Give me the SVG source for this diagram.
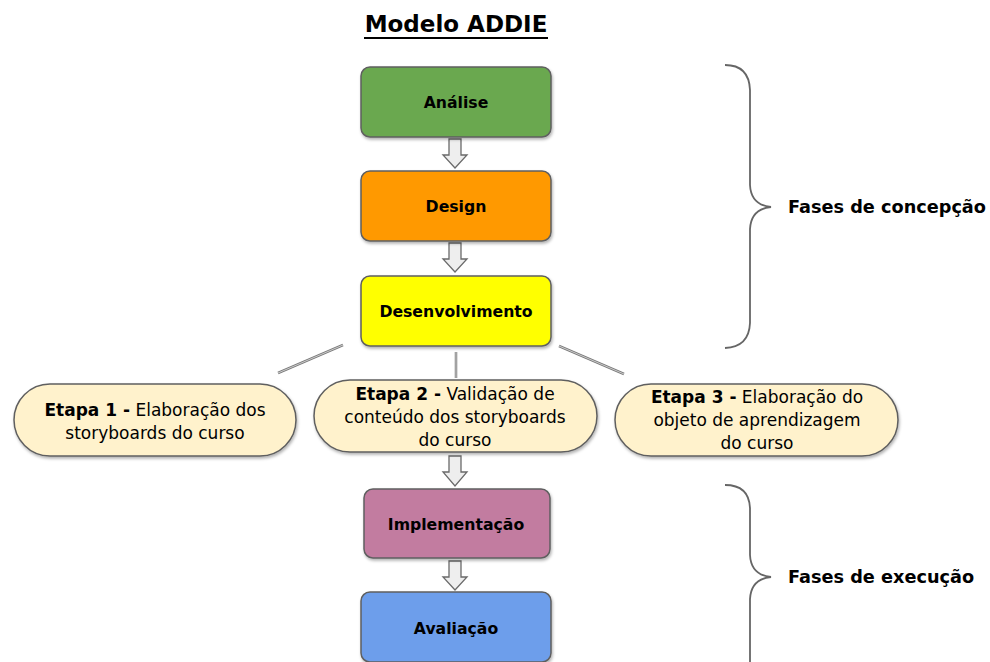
<svg xmlns="http://www.w3.org/2000/svg" width="990" height="662" viewBox="0 0 990 662">
<defs>
<filter id="sh" x="-10%" y="-10%" width="130%" height="140%">
<feDropShadow dx="1" dy="2" stdDeviation="1.5" flood-color="#000" flood-opacity="0.3"/>
</filter>
</defs>
<style>
.box{stroke:#5f5f5f;stroke-width:1.5;filter:url(#sh)}
.pill{fill:#fff2cc;stroke:#5f5f5f;stroke-width:1.5;filter:url(#sh)}
.lbl{font-family:"DejaVu Sans",sans-serif;font-weight:bold;font-size:15.7px;fill:#000;text-anchor:middle}
.ptxt{font-family:"DejaVu Sans",sans-serif;font-size:17px;fill:#000;text-anchor:middle}
.b{font-weight:bold}
.arr{fill:#eeeeee;stroke:#6a6a6a;stroke-width:1.3}
.ln{stroke:#7a7a7a;stroke-width:2.5;fill:none}
.ln2{stroke:#e0e0e0;stroke-width:0.8;fill:none}
.br{fill:none;stroke:#666;stroke-width:1.8}
.side{font-family:"DejaVu Sans",sans-serif;font-weight:bold;font-size:17.7px;fill:#000}
</style>
<rect width="990" height="662" fill="#fff"/>
<g id="title">
<text x="456" y="32" text-anchor="middle" font-family="DejaVu Sans, sans-serif" font-weight="bold" font-size="23" fill="#000">Modelo ADDIE</text>
<line x1="364" y1="38" x2="548" y2="38" stroke="#000" stroke-width="2"/>
</g>
<g id="connectors">
<path class="arr" d="M449 139 H461 V155 H467 L455 168 L443 155 H449 Z"/>
<path class="arr" d="M449 243 H461 V259 H467 L455 272 L443 259 H449 Z"/>
<path class="arr" d="M449 456 H461 V472 H467 L455 486 L443 472 H449 Z"/>
<path class="arr" d="M449 561 H461 V577 H467 L455 590 L443 577 H449 Z"/>
<line class="ln" x1="278" y1="373" x2="343" y2="345"/>
<line class="ln2" x1="278" y1="373" x2="343" y2="345"/>
<line class="ln" x1="456" y1="352" x2="456" y2="378"/>
<line class="ln2" x1="456" y1="352" x2="456" y2="378"/>
<line class="ln" x1="559" y1="346" x2="624" y2="374"/>
<line class="ln2" x1="559" y1="346" x2="624" y2="374"/>
</g>
<g id="analise">
<rect class="box" x="361" y="67" width="190" height="70" rx="9" fill="#6aa84f"/>
<text class="lbl" x="456" y="108">Análise</text>
</g>
<g id="design">
<rect class="box" x="361" y="171" width="190" height="70" rx="9" fill="#ff9900"/>
<text class="lbl" x="456" y="212">Design</text>
</g>
<g id="desenvolvimento">
<rect class="box" x="361" y="276" width="190" height="70" rx="9" fill="#ffff00"/>
<text class="lbl" x="456" y="317">Desenvolvimento</text>
</g>
<g id="etapa1">
<rect class="pill" x="14" y="384" width="282" height="72" rx="36" ry="36"/>
<text class="ptxt" x="155" y="416"><tspan class="b">Etapa 1 -</tspan> Elaboração dos</text>
<text class="ptxt" x="155" y="439">storyboards do curso</text>
</g>
<g id="etapa2">
<rect class="pill" x="314" y="380" width="283" height="72" rx="36" ry="36"/>
<text class="ptxt" x="455" y="400"><tspan class="b">Etapa 2 -</tspan> Validação de</text>
<text class="ptxt" x="455" y="423">conteúdo dos storyboards</text>
<text class="ptxt" x="455" y="446">do curso</text>
</g>
<g id="etapa3">
<rect class="pill" x="615" y="384" width="283" height="72" rx="36" ry="36"/>
<text class="ptxt" x="757" y="403"><tspan class="b">Etapa 3 -</tspan> Elaboração do</text>
<text class="ptxt" x="757" y="426">objeto de aprendizagem</text>
<text class="ptxt" x="757" y="449">do curso</text>
</g>
<g id="implementacao">
<rect class="box" x="364" y="489" width="186" height="69" rx="9" fill="#c27ba0"/>
<text class="lbl" x="456" y="530">Implementação</text>
</g>
<g id="avaliacao">
<rect class="box" x="361" y="592" width="190" height="70" rx="9" fill="#6d9eeb"/>
<text class="lbl" x="456" y="634">Avaliação</text>
</g>
<g id="concepcao">
<path class="br" d="M725 65 Q749 65 750 90 V185 Q751 205 771 207 Q751 209 750 229 V323 Q749 347 725 348"/>
<text class="side" x="788" y="213">Fases de concepção</text>
</g>
<g id="execucao">
<path class="br" d="M725 485 Q749 485 750 508 V555 Q751 575 771 577 Q751 579 750 599 V662"/>
<text class="side" x="788" y="583">Fases de execução</text>
</g>
</svg>
